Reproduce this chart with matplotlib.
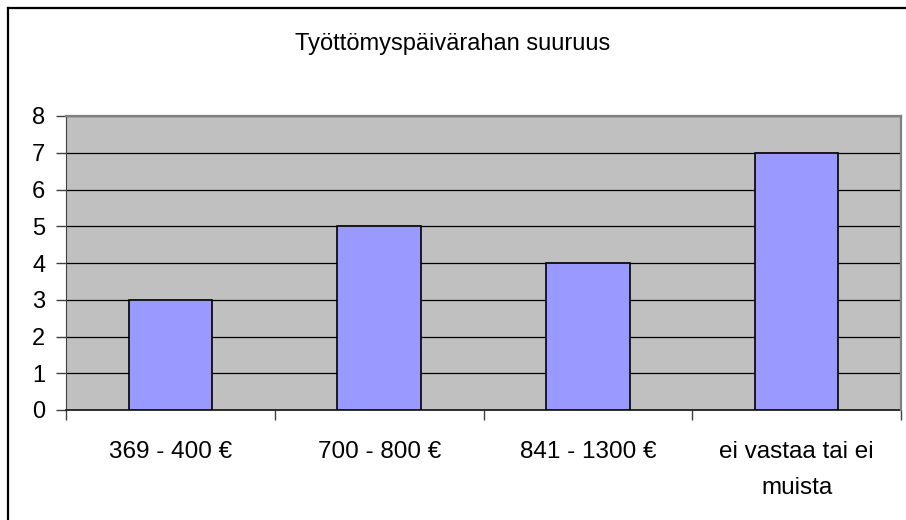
import matplotlib.pyplot as plt
from matplotlib.lines import Line2D

plt.rcParams['font.family'] = ['Liberation Sans', 'DejaVu Sans']

categories = ["369 - 400 €", "700 - 800 €", "841 - 1300 €", "ei vastaa tai ei\nmuista"]
values = [3, 5, 4, 7]
title = "Työttömyspäivärahan suuruus"

W, H = 906, 520
fig = plt.figure(figsize=(W / 100, H / 100), dpi=100)
fig.patch.set_facecolor('white')

# outer chart border (only left and top are inside the picture)
fig.lines.append(Line2D([8 / W, 8 / W], [0, 1 - 8 / H], transform=fig.transFigure,
                        color='black', linewidth=1.6))
fig.lines.append(Line2D([8 / W, 1], [1 - 8 / H, 1 - 8 / H], transform=fig.transFigure,
                        color='black', linewidth=1.6))

ax = fig.add_axes([66 / W, 1 - 410 / H, (901 - 66) / W, (410 - 116) / H])
ax.set_facecolor('#c0c0c0')

x = range(len(categories))
ax.bar(x, values, width=0.40, color='#9999ff', edgecolor='black', linewidth=1.2, zorder=3)

ax.set_xlim(-0.5, len(categories) - 0.5)
ax.set_ylim(0, 8)
ax.set_yticks(range(0, 9))
ax.yaxis.grid(True, color='black', linewidth=0.9, zorder=1)
ax.set_axisbelow(True)

ax.set_xticks([i + 0.5 for i in range(-1, len(categories))], minor=False)
ax.set_xticklabels([])
ax.set_xticks(list(x), minor=True)
ax.set_xticklabels(categories, minor=True, fontsize=17.5, linespacing=1.85, va='top')
ax.tick_params(axis='x', which='minor', length=0, pad=22)
ax.tick_params(axis='x', which='major', length=7, width=1, color='#404040')
ax.tick_params(axis='y', length=7, width=1, color='#404040', labelsize=17, pad=8)

for s in ['top', 'right']:
    ax.spines[s].set_color('#808080')
    ax.spines[s].set_linewidth(1.6)
    ax.spines[s].set_zorder(4)
ax.spines['left'].set_color('#404040')
ax.spines['bottom'].set_color('#202020')
ax.spines['bottom'].set_linewidth(1.3)

fig.text(453 / W, 1 - 44 / H, title, ha='center', va='center', fontsize=17)

fig.savefig('out.png', dpi=100)
